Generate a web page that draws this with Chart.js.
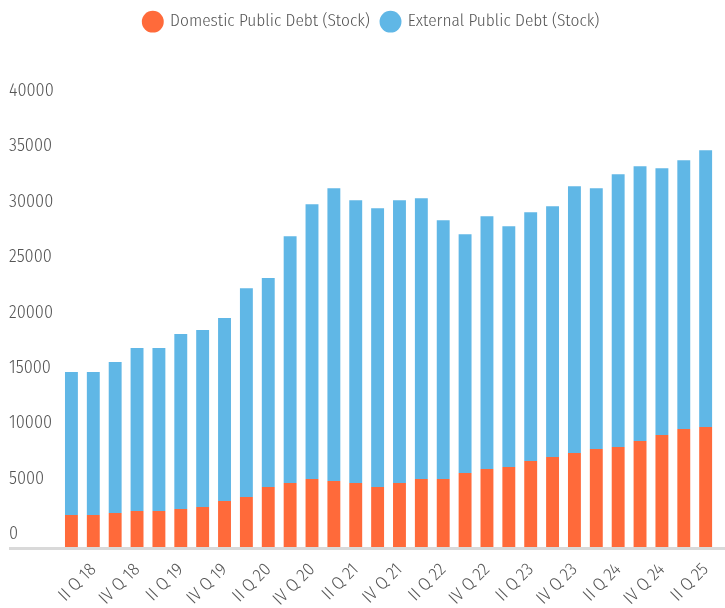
<!DOCTYPE html>
<html><head><meta charset="utf-8">
<script src="https://cdn.jsdelivr.net/npm/chart.js@4"></script>
<style>html,body{margin:0;padding:0;background:#fff}</style>
</head><body>
<canvas id="c" width="725" height="608"></canvas>
<script>
const categories = [
  'I Q 18','II Q 18','III Q 18','IV Q 18',
  'I Q 19','II Q 19','III Q 19','IV Q 19',
  'I Q 20','II Q 20','III Q 20','IV Q 20',
  'I Q 21','II Q 21','III Q 21','IV Q 21',
  'I Q 22','II Q 22','III Q 22','IV Q 22',
  'I Q 23','II Q 23','III Q 23','IV Q 23',
  'I Q 24','II Q 24','III Q 24','IV Q 24',
  'I Q 25','II Q 25'
];
const domesticDebt = [
  2890, 2890, 3070, 3250, 3250, 3430, 3610, 4150, 4510, 5415,
  5775, 6137, 5957, 5775, 5415, 5775, 6137, 6137, 6679, 7040,
  7220, 7762, 8123, 8484, 8845, 9025, 9567, 10108, 10650, 10830
];
const externalDebt = [
  12906, 12906, 13628, 14711, 14711, 15794, 15975, 16516, 18863, 18863,
  22292, 24819, 26444, 25542, 25181, 25542, 25361, 23375, 21570, 22834,
  21751, 22473, 22653, 24097, 23556, 24639, 24819, 24097, 24278, 25000
];
const yTicks = [0, 5000, 10000, 15000, 20000, 25000, 30000, 35000, 40000];
const seriesNames = ['Domestic Public Debt (Stock)', 'External Public Debt (Stock)'];

const FONT = "'Fira Sans Condensed', 'PT Sans Narrow', sans-serif";
const TEXT = '#555555';

const baseline = {
  id: 'baseline',
  beforeDatasetsDraw(chart) {
    const { ctx, chartArea } = chart;
    ctx.save();
    ctx.fillStyle = '#d9d9d9';
    ctx.fillRect(9, chartArea.bottom, chart.width - 9, 3);
    ctx.restore();
  }
};
const legendSpace = {
  id: 'legendSpace',
  beforeInit(chart) {
    const lg = chart.legend;
    const orig = lg.fit;
    lg.fit = function () { orig.call(this); this.height = 103; };
  },
  afterLayout(chart) {
    const lg = chart.legend;
    lg.left += 7;
    lg.right += 7;
  }
};

new Chart(document.getElementById('c'), {
  type: 'bar',
  data: {
    labels: categories,
    datasets: [
      { label: seriesNames[0], data: domesticDebt, backgroundColor: '#FF6A3A', barPercentage: 0.59, categoryPercentage: 1 },
      { label: seriesNames[1], data: externalDebt, backgroundColor: '#60B7E6', barPercentage: 0.59, categoryPercentage: 1 }
    ]
  },
  options: {
    responsive: false,
    animation: false,
    devicePixelRatio: 1,
    layout: { padding: { left: 9, right: 4.5, top: 1, bottom: 0 } },
    plugins: {
      legend: {
        position: 'top',
        labels: {
          usePointStyle: true,
          pointStyle: 'circle',
          boxHeight: 15.5,
          padding: 12,
          color: TEXT,
          font: { family: FONT, size: 17.3, weight: 300 }
        }
      },
      tooltip: { enabled: false }
    },
    scales: {
      x: {
        stacked: true,
        grid: { display: false },
        border: { display: false },
        afterFit(s) { s.height = 61; },
        ticks: {
          autoSkip: false,
          maxRotation: 45,
          minRotation: 45,
          padding: 4,
          color: TEXT,
          font: { family: FONT, size: 18, weight: 300 },
          callback: (v, i) => (i % 2 === 1 ? categories[i] : '')
        }
      },
      y: {
        stacked: true,
        min: 0,
        max: 40000,
        grid: { display: false },
        border: { display: false },
        afterFit(s) { s.width = 51.5; },
        afterBuildTicks(s) { s.ticks = yTicks.map(v => ({ value: v })); },
        ticks: {
          crossAlign: 'far',
          labelOffset: -13,
          color: TEXT,
          font: { family: FONT, size: 18, weight: 300 },
          callback: v => String(v)
        }
      }
    }
  },
  plugins: [baseline, legendSpace]
});
</script>
</body></html>
